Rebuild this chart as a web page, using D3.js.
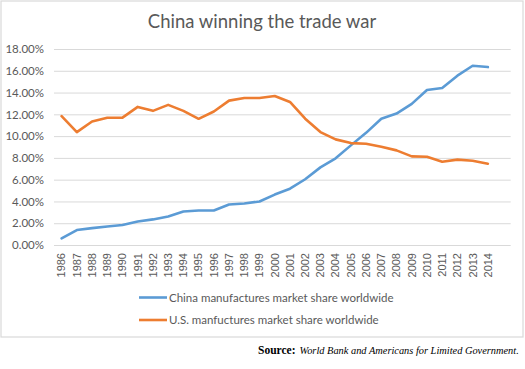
<!DOCTYPE html>
<html><head><meta charset="utf-8">
<script src="https://cdn.jsdelivr.net/npm/d3@7"></script>
<style>body{margin:0;background:#fff}svg{display:block}</style>
</head><body>
<svg id="c" width="525" height="369"></svg>
<script>
const years = ["1986","1987","1988","1989","1990","1991","1992","1993","1994","1995","1996","1997","1998","1999","2000","2001","2002","2003","2004","2005","2006","2007","2008","2009","2010","2011","2012","2013","2014"];
const china = [0.61,1.37,1.55,1.70,1.83,2.16,2.35,2.62,3.08,3.17,3.17,3.72,3.81,4.00,4.63,5.17,6.04,7.13,7.96,9.15,10.30,11.60,12.07,12.96,14.24,14.42,15.55,16.46,16.34];
const us = [11.83,10.37,11.34,11.68,11.70,12.68,12.32,12.87,12.32,11.59,12.26,13.26,13.50,13.50,13.69,13.14,11.60,10.37,9.70,9.36,9.30,9.02,8.69,8.14,8.11,7.65,7.84,7.74,7.47];
const yTicks = [0,2,4,6,8,10,12,14,16,18];
const seriesNames = ["China manufactures market share worldwide","U.S. manfuctures market share worldwide"];
const colors = ["#5b9bd5","#ed7d31"];

(function(){
const svg = d3.select("#c");
const font = "Lato, 'Open Sans', sans-serif";

// frame
svg.append("rect").attr("x",1).attr("y",1).attr("width",522).attr("height",336)
  .attr("fill","#fff").attr("stroke","#d9d9d9").attr("stroke-width",1.2);

// title
svg.append("text").attr("x",262).attr("y",28).attr("text-anchor","middle")
  .attr("font-family",font).attr("font-size",18.5).attr("fill","#595959")
  .text("China winning the trade war");

const pL = 54, pR = 510.7, pT = 49, pB = 245;
const x = d3.scaleBand().domain(years.concat([""])).range([pL,pR]);
const y = d3.scaleLinear().domain([0,18]).range([pB,pT]);

// gridlines
svg.append("g").selectAll("line").data(yTicks).join("line")
  .attr("x1",pL).attr("x2",pR)
  .attr("y1",d=>y(d)+0.5).attr("y2",d=>y(d)+0.5)
  .attr("stroke","#d9d9d9").attr("stroke-width",1);

// y axis labels
const yAxis = d3.axisLeft(y).tickValues(yTicks).tickSize(0).tickPadding(10)
  .tickFormat(d=>d.toFixed(2)+"%");
const ya = svg.append("g").attr("transform",`translate(${pL},0)`).call(yAxis);
ya.select(".domain").remove();
ya.selectAll("text").attr("font-family",font).attr("font-size",11.5).attr("fill","#595959");

// x axis labels
const xAxis = d3.axisBottom(x).tickValues(years).tickSize(0).tickPadding(0);
const xa = svg.append("g").attr("transform",`translate(0,${pB})`).call(xAxis);
xa.select(".domain").remove();
xa.selectAll("text").attr("font-family","'Liberation Sans', Arial, sans-serif").attr("font-size",11)
  .attr("fill","#595959").attr("transform","rotate(-90)")
  .attr("text-anchor","end").attr("x",-8).attr("y",0).attr("dy","0.35em");

// lines
const line = d3.line().x((d,i)=>x(years[i])+x.bandwidth()/2).y(d=>y(d));
[china, us].forEach((s,k)=>{
  svg.append("path").datum(s).attr("d",line).attr("fill","none")
    .attr("stroke",colors[k]).attr("stroke-width",2.6)
    .attr("stroke-linejoin","round").attr("stroke-linecap","round");
});

// legend
const lg = svg.append("g");
seriesNames.forEach((n,k)=>{
  const yy = 297.5 + k*22.5;
  lg.append("line").attr("x1",139).attr("x2",167).attr("y1",yy).attr("y2",yy)
    .attr("stroke",colors[k]).attr("stroke-width",2.6);
  lg.append("text").attr("x",169).attr("y",yy).attr("dy","0.35em")
    .attr("font-family",font).attr("font-size",11.5).attr("fill","#595959").text(n);
});

// source
const serif = "'Liberation Serif','Times New Roman',serif";
const s1 = svg.append("text").attr("x",258).attr("y",354)
  .attr("font-family",serif).attr("font-size",11.5).attr("font-weight","bold").attr("fill","#000")
  .text("Source:");
const w1 = s1.node().getComputedTextLength();
const s2x = 258 + w1 + 4;
const s2 = svg.append("text").attr("x",s2x).attr("y",354)
  .attr("font-family",serif).attr("font-size",11.5).attr("font-style","italic").attr("fill","#000")
  .text("World Bank and Americans for Limited Government.");
const w2 = s2.node().getComputedTextLength();
if (s2x + w2 > 519) s2.attr("font-size", 11.5*(519 - s2x)/w2);
})();
</script>
</body></html>
